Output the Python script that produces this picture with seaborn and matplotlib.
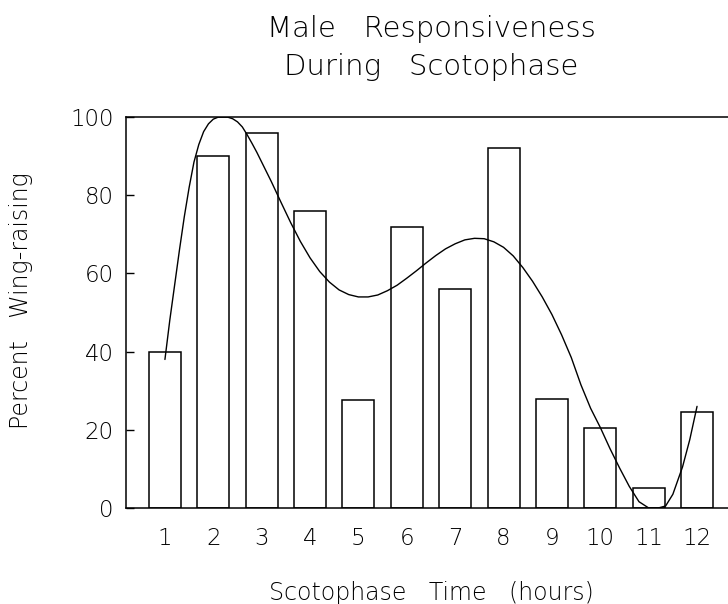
import numpy as np
import pandas as pd
import matplotlib
matplotlib.use("Agg")
import matplotlib.pyplot as plt
import seaborn as sns

# bar values (percent wing-raising per scotophase hour)
hours = [1, 2, 3, 4, 5, 6, 7, 8, 9, 10, 11, 12]
pct_wing = [40, 90, 96, 76, 27.5, 72, 56, 92, 28, 20.5, 5, 24.5]
tick_labels = [str(h) for h in hours]

# fitted curve, points
curve_t = [1.0, 1.1, 1.2, 1.3, 1.4, 1.5, 1.6, 1.7, 1.8, 1.9, 2.0, 2.1, 2.2,
           2.3, 2.4, 2.5, 2.6, 2.7, 2.8, 2.9, 3.0, 3.2, 3.4, 3.6, 3.8, 4.0,
           4.2, 4.4, 4.6, 4.8, 5.0, 5.2, 5.4, 5.6, 5.8, 6.0, 6.2, 6.4, 6.6,
           6.8, 7.0, 7.2, 7.4, 7.6, 7.8, 8.0, 8.2, 8.4, 8.6, 8.8, 9.0, 9.2,
           9.4, 9.6, 9.8, 10.0, 10.2, 10.4, 10.6, 10.8, 11.0, 11.2, 11.35,
           11.5, 11.7, 11.85, 12.0]
curve_v = [38, 48, 57, 66, 74.5, 82, 88.5, 93, 96.3, 98.3, 99.5, 100, 100,
           100, 99.6, 98.8, 97.5, 95.5, 93.3, 91, 88.5, 83.5, 78.2, 73, 68.2, 64,
           60.5, 57.8, 55.8, 54.6, 54, 54, 54.5, 55.6, 57, 58.8, 60.7, 62.7, 64.6,
           66.3, 67.6, 68.6, 69, 68.9, 68.1, 66.7, 64.5, 61.5, 58, 54, 49.5, 44.3,
           38.5, 31.5, 25.5, 20.6, 15.2, 10.2, 5.5, 1.6, 0, 0, 0.5,
           3.5, 10.5, 17.5, 26]

bars = pd.DataFrame({"hour": hours, "pct": pct_wing})
curve = pd.DataFrame({"t": curve_t, "v": curve_v})

sns.set_style("white")
plt.rcParams["font.family"] = ["DejaVu Sans"]
plt.rcParams["font.weight"] = "light"
plt.rcParams["text.color"] = "black"
plt.rcParams["axes.labelcolor"] = "black"
plt.rcParams["axes.labelweight"] = "light"
plt.rcParams["xtick.color"] = "black"
plt.rcParams["ytick.color"] = "black"

fig = plt.figure(figsize=(7.28, 6.04), dpi=100)
ax = fig.add_axes([0.173, 0.159, 0.827, 0.647])

sns.barplot(data=bars, x="hour", y="pct", native_scale=True, width=0.66,
            color="white", edgecolor="black", linewidth=1.1, saturation=1,
            errorbar=None, ax=ax)
sns.lineplot(data=curve, x="t", y="v", color="black", linewidth=1.0, ax=ax)

ax.set_xlim(0.194, 12.64)
ax.set_ylim(0, 100)
ax.set_xticks(hours)
ax.set_xticklabels(tick_labels)
ax.set_yticks([0, 20, 40, 60, 80, 100])

for s in ["left", "bottom", "top"]:
    ax.spines[s].set_color("black")
    ax.spines[s].set_linewidth(1.1)
ax.spines["right"].set_visible(False)

ax.tick_params(axis="y", direction="in", length=6, width=1, pad=9,
               labelsize=16.5, left=True)
ax.tick_params(axis="x", length=0, pad=14, labelsize=16.5)

ax.set_xlabel("Scotophase   Time   (hours)", fontsize=17)
ax.set_ylabel("Percent   Wing-raising", fontsize=17)
ax.xaxis.set_label_coords(0.507, -(600 - 508) / 391)
ax.xaxis.label.set_va("baseline")
ax.yaxis.set_label_coords(-0.155, 0.532)

fig.text(0.592, 1 - 37 / 604, "Male   Responsiveness", ha="center",
         va="baseline", fontsize=21)
fig.text(0.592, 1 - 75 / 604, "During   Scotophase", ha="center",
         va="baseline", fontsize=21)

fig.savefig("out.png", dpi=100)
